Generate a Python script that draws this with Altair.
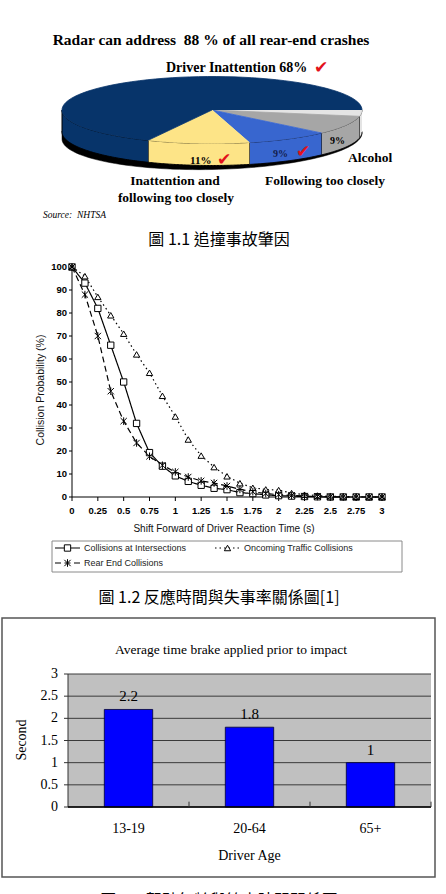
import altair as alt
import pandas as pd

W, H = 446, 894

# ---------------- data ----------------
pie_slices = ["Other", "Alcohol", "Following too closely",
              "Inattention and following too closely", "Driver Inattention"]
pie_shares = [3, 9, 9, 11, 68]
pie_colors = ["#e4e4e4", "#a6a6a6", "#3866cf", "#fde487", "#07346a"]

shift_time = [0, 0.125, 0.25, 0.375, 0.5, 0.625, 0.75, 0.875, 1.0, 1.125, 1.25, 1.375, 1.5,
              1.625, 1.75, 1.875, 2.0, 2.125, 2.25, 2.375, 2.5, 2.625, 2.75, 2.875, 3.0]
p_intersections = [100, 93, 82, 66, 50, 32, 19.3, 13.4, 9.2, 6.8, 5.1, 3.8, 3.2,
                   1.9, 1.5, 0.9, 0.6, 0.4, 0.2, 0.1, 0, 0, 0, 0, 0]
p_oncoming = [100, 96, 87, 79, 71, 62, 54, 44, 35, 25, 18, 13, 9,
              6, 4, 3.3, 3, 1.7, 1, 0.6, 0.3, 0.2, 0.1, 0, 0]
p_rear_end = [100, 88, 70, 46, 33, 23.5, 17.7, 13.8, 10.9, 8.7, 7, 6.1, 4.8,
              3.3, 2.3, 1.5, 1, 0.7, 0.4, 0.2, 0.1, 0, 0, 0, 0]
series_names = ["Collisions at Intersections", "Oncoming Traffic Collisions", "Rear End Collisions"]
time_ticks = [0, 0.25, 0.5, 0.75, 1, 1.25, 1.5, 1.75, 2, 2.25, 2.5, 2.75, 3]
prob_ticks = [0, 10, 20, 30, 40, 50, 60, 70, 80, 90, 100]

age_groups = ["13-19", "20-64", "65+"]
brake_seconds = [2.2, 1.8, 1.0]
second_ticks = [0, 0.5, 1, 1.5, 2, 2.5, 3]

SERIF = "Liberation Serif"
SANS = "Liberation Sans"
CJK = "Noto Sans CJK TC"
CHECK = "DejaVu Sans"

one = pd.DataFrame({"a": [0]})


def label(text, x, y, size, font=SERIF, weight="normal", align="left", style="normal",
          color="black", baseline="alphabetic", angle=0):
    return alt.Chart(pd.DataFrame({"t": [text]})).mark_text(
        font=font, fontSize=size, fontWeight=weight, fontStyle=style, align=align,
        baseline=baseline, color=color, angle=angle
    ).encode(x=alt.value(x), y=alt.value(y), text="t:N")


# ---------------- 3D pie ----------------
CX, CY, RX, RY, DEPTH, N = 212, 110, 150, 33.5, 22, 72
pie_df = pd.DataFrame({"slice": pie_slices, "share": pie_shares, "rank": list(range(len(pie_slices)))})
px_scale = alt.Scale(domain=[0, W], range=[0, W], nice=False, zero=False)
py_scale = alt.Scale(domain=[0, H], range=[0, H], nice=False, zero=False)
slice_scale = alt.Scale(domain=pie_slices, range=pie_colors)

pie_base = alt.Chart(pie_df).transform_window(
    cum="sum(share)", sort=[alt.SortField("rank")], frame=[None, 0]
).transform_joinaggregate(total="sum(share)").transform_calculate(
    t0="2*PI*(datum.cum - datum.share)/datum.total",
    t1="2*PI*datum.cum/datum.total",
)

pie_shadow = alt.Chart(alt.sequence(0, 2 * N + 2, as_="k")).transform_calculate(
    j=f"datum.k <= {N} ? datum.k : {2 * N + 1} - datum.k"
).transform_calculate(
    t=f"PI*datum.j/{N}"
).transform_calculate(
    px=f"{CX} + {RX}*cos(datum.t)",
    py=f"{CY} + {RY}*sin(datum.t) + {DEPTH} - 1 + (datum.k > {N} ? 5 - 3*cos(datum.t) : 0)",
).mark_line(filled=True, fill="black", stroke="black", strokeWidth=0.5).encode(
    x=alt.X("px:Q", scale=px_scale, axis=None),
    y=alt.Y("py:Q", scale=py_scale, axis=None),
    order="k:Q",
)

pie_side = pie_base.transform_calculate(
    s0="max(datum.t0, 0)", s1="min(datum.t1, PI)"
).transform_filter("datum.s1 > datum.s0").transform_calculate(
    k=f"sequence(0, {2 * N + 2})"
).transform_flatten(["k"]).transform_calculate(
    j=f"datum.k <= {N} ? datum.k : {2 * N + 1} - datum.k"
).transform_calculate(
    t=f"datum.s0 + (datum.s1 - datum.s0)*datum.j/{N}"
).transform_calculate(
    px=f"{CX} + {RX}*cos(datum.t)",
    py=f"{CY} + {RY}*sin(datum.t) + (datum.k > {N} ? {DEPTH} : 0)",
).mark_line(filled=True, stroke="black", strokeWidth=1).encode(
    x=alt.X("px:Q", scale=px_scale, axis=None),
    y=alt.Y("py:Q", scale=py_scale, axis=None),
    fill=alt.Fill("slice:N", scale=slice_scale, legend=None),
    detail="slice:N",
    order="k:Q",
)

pie_top = pie_base.transform_calculate(
    k=f"sequence(-1, {N + 1})"
).transform_flatten(["k"]).transform_calculate(
    t=f"datum.t0 + (datum.t1 - datum.t0)*max(datum.k, 0)/{N}"
).transform_calculate(
    px=f"datum.k < 0 ? {CX} : {CX} + {RX}*cos(datum.t)",
    py=f"datum.k < 0 ? {CY} : {CY} + {RY}*sin(datum.t)",
).mark_line(filled=True, strokeWidth=0.8).encode(
    x=alt.X("px:Q", scale=px_scale, axis=None),
    y=alt.Y("py:Q", scale=py_scale, axis=None),
    fill=alt.Fill("slice:N", scale=slice_scale, legend=None),
    stroke=alt.Stroke("slice:N", scale=slice_scale, legend=None),
    detail="slice:N",
    order="k:Q",
)

pie_group = alt.layer(pie_shadow, pie_side, pie_top)

pie_texts = [
    label("Radar can address\u00a0 88 % of all rear-end crashes", 211, 45, 15.5, weight="bold",
          align="center"),
    label("Driver Inattention 68%", 166, 72, 14, weight="bold"),
    label("✔", 314, 73, 17, font=CHECK, color="#e3121b"),
    label("11%", 190, 164, 11, weight="bold"),
    label("✔", 217, 165, 17, font=CHECK, color="#e3121b"),
    label("9%", 273, 157, 10, weight="bold", color="#14204a"),
    label("✔", 296, 157, 17, font=CHECK, color="#e3121b"),
    label("9%", 330, 144, 10, weight="bold"),
    label("Alcohol", 348, 162, 13.5, weight="bold"),
    label("Following too closely", 265, 185, 13.5, weight="bold"),
    label("Inattention and", 175, 185, 13.5, weight="bold", align="center"),
    label("following too closely", 176, 202, 13.5, weight="bold", align="center"),
    label("Source:\u00a0 NHTSA", 43, 218, 9.5, style="italic"),
    label("圖 1.1 追撞事故肇因", 219, 240, 16, font=CJK, align="center", baseline="middle"),
]

# ---------------- line chart ----------------
line_df = pd.DataFrame({
    "time": shift_time * 3,
    "prob": p_intersections + p_oncoming + p_rear_end,
    "series": [s for s in series_names for _ in shift_time],
})
STAR = "M-1,-1L1,1M-1,1L1,-1M0,-1.2L0,1.2"
lx_scale = alt.Scale(domain=[0, 3], range=[72, 382], nice=False, zero=False)
ly_scale = alt.Scale(domain=[0, 100], range=[497, 267], nice=False)
LX = dict(scale=lx_scale, axis=None)
LY = dict(scale=ly_scale, axis=None)
dash_scale = alt.Scale(domain=series_names, range=[[1, 0], [1.5, 3], [6, 3.5]])
shape_scale = alt.Scale(domain=series_names, range=["square", "triangle-up", STAR])

lines = alt.Chart(line_df).mark_line(color="black", strokeWidth=1.2).encode(
    x=alt.X("time:Q", **LX),
    y=alt.Y("prob:Q", **LY),
    strokeDash=alt.StrokeDash("series:N", scale=dash_scale, legend=None),
    detail="series:N",
)
points = alt.Chart(line_df).mark_point(filled=True, fill="white", stroke="black",
                                       strokeWidth=1, size=40, opacity=1).encode(
    x=alt.X("time:Q", **LX),
    y=alt.Y("prob:Q", **LY),
    shape=alt.Shape("series:N", scale=shape_scale, legend=None),
)
tx_df = pd.DataFrame({"v": time_ticks})
ty_df = pd.DataFrame({"v": prob_ticks})
lx_domain = alt.Chart(one).mark_rule(color="black", strokeWidth=1).encode(
    x=alt.XDatum(time_ticks[0], **LX), x2=alt.X2Datum(time_ticks[-1]), y=alt.YDatum(0, **LY))
ly_domain = alt.Chart(one).mark_rule(color="black", strokeWidth=1).encode(
    x=alt.XDatum(0, **LX), y=alt.YDatum(prob_ticks[0], **LY), y2=alt.Y2Datum(prob_ticks[-1]))
lx_ticks = alt.Chart(tx_df).mark_rule(color="black", y2Offset=4).encode(
    x=alt.X("v:Q", **LX), y=alt.YDatum(0, **LY), y2=alt.Y2Datum(0))
lx_labels = alt.Chart(tx_df).mark_text(font=SANS, fontWeight="bold", fontSize=9.5, baseline="top",
                                       dy=9, color="black").encode(
    x=alt.X("v:Q", **LX), y=alt.YDatum(0, **LY), text=alt.Text("v:Q", format="~g"))
ly_ticks = alt.Chart(ty_df).mark_rule(color="black", x2Offset=-3).encode(
    y=alt.Y("v:Q", **LY), x=alt.XDatum(0, **LX), x2=alt.X2Datum(0))
ly_labels = alt.Chart(ty_df).mark_text(font=SANS, fontWeight="bold", fontSize=9.5, align="right",
                                       baseline="middle", dx=-5, color="black").encode(
    y=alt.Y("v:Q", **LY), x=alt.XDatum(0, **LX), text=alt.Text("v:Q", format="~g"))
line_group = alt.layer(lx_domain, ly_domain, lx_ticks, ly_ticks, lx_labels, ly_labels, lines, points)

legend_parts = [
    alt.Chart(one).mark_rect(fill="white", stroke="#8a8a8a", strokeWidth=1).encode(
        x=alt.value(52), x2=alt.value(402), y=alt.value(541), y2=alt.value(572)),
]
legend_items = [(series_names[0], 55, 548, [1, 0], "square"),
                (series_names[1], 215, 548, [1.5, 3], "triangle-up"),
                (series_names[2], 55, 563, [6, 3.5], STAR)]
for name, lx0, ly0, dsh, shp in legend_items:
    legend_parts.append(alt.Chart(one).mark_rule(color="black", strokeWidth=1.2, strokeDash=dsh).encode(
        x=alt.value(lx0), x2=alt.value(lx0 + 25), y=alt.value(ly0)))
    legend_parts.append(alt.Chart(one).mark_point(shape=shp, filled=True, fill="white", stroke="black",
                                                  strokeWidth=1, size=40, opacity=1).encode(
        x=alt.value(lx0 + 12.5), y=alt.value(ly0)))
    legend_parts.append(label(name, lx0 + 29, ly0, 9, font=SANS, color="#222", baseline="middle"))

line_texts = [
    label("Shift Forward of Driver Reaction Time (s)", 224, 532, 10, font=SANS, color="#111",
          align="center"),
    label("Collision Probability (%)", 41, 390, 10.5, font=SANS, color="#111", align="center",
          baseline="middle", angle=270),
    label("圖 1.2 反應時間與失事率關係圖[1]", 219, 598, 16, font=CJK, align="center",
          baseline="middle"),
]

# ---------------- bar chart ----------------
bar_df = pd.DataFrame({"age": age_groups, "sec": brake_seconds})
PAD_INNER, PAD_OUTER = 0.6, 0.3
bx_scale = alt.Scale(domain=age_groups, range=[68, 431], paddingInner=PAD_INNER, paddingOuter=PAD_OUTER)
by_scale = alt.Scale(domain=[0, 3], range=[807, 674], nice=False)
BX = dict(scale=bx_scale, axis=None, sort=None)
BY = dict(scale=by_scale, axis=None)
STEP = (431 - 68) / (len(age_groups) - PAD_INNER + 2 * PAD_OUTER)

bar_frame = [
    alt.Chart(one).mark_rect(fill="white", stroke="#555555", strokeWidth=1.5).encode(
        x=alt.value(2), x2=alt.value(435), y=alt.value(618), y2=alt.value(877)),
    alt.Chart(one).mark_rect(fill="#c0c0c0").encode(
        x=alt.value(68), x2=alt.value(431), y=alt.value(674), y2=alt.value(807)),
    label("Average time brake applied prior to impact", 231, 654, 13.5, align="center"),
    label("Second", 22, 740, 14, align="center", baseline="middle", angle=270),
    label("Driver Age", 249.5, 860, 14, align="center"),
]

sy_df = pd.DataFrame({"v": second_ticks})
grid = alt.Chart(sy_df).mark_rule(color="#3a3a3a", strokeWidth=1).encode(
    y=alt.Y("v:Q", **BY), x=alt.value(68), x2=alt.value(431))
by_ticks = alt.Chart(sy_df).mark_rule(color="#333", strokeWidth=1).encode(
    y=alt.Y("v:Q", **BY), x=alt.value(64), x2=alt.value(68))
by_labels = alt.Chart(sy_df).mark_text(font=SERIF, fontSize=14, align="right", baseline="middle",
                                       color="black").encode(
    y=alt.Y("v:Q", **BY), x=alt.value(58), text=alt.Text("v:Q", format="~g"))
by_domain = alt.Chart(one).mark_rule(color="#333", strokeWidth=1).encode(
    x=alt.value(68), y=alt.YDatum(second_ticks[0], **BY), y2=alt.Y2Datum(second_ticks[-1]))
bars = alt.Chart(bar_df).mark_bar(color="#0000ff", stroke="#000033", strokeWidth=0.8).encode(
    x=alt.X("age:N", **BX),
    y=alt.Y("sec:Q", **BY),
)
bar_values = alt.Chart(bar_df).mark_text(font=SERIF, fontSize=15, dy=-8, baseline="alphabetic",
                                         color="black").encode(
    x=alt.X("age:N", **BX),
    y=alt.Y("sec:Q", **BY),
    text=alt.Text("sec:Q", format="~g"),
)
bx_domain = alt.Chart(one).mark_rule(color="black", strokeWidth=1.5).encode(
    x=alt.value(68), x2=alt.value(431), y=alt.YDatum(0, **BY))
bx_labels = alt.Chart(bar_df).mark_text(font=SERIF, fontSize=14, baseline="alphabetic", dy=26,
                                        color="black").encode(
    x=alt.X("age:N", **BX), y=alt.YDatum(0, **BY), text="age:N")
inner_ticks = alt.Chart(bar_df).mark_rule(color="#333", strokeWidth=1,
                                          xOffset=STEP * PAD_INNER / 2).encode(
    x=alt.X("age:N", bandPosition=1, **BX),
    y=alt.YDatum(0, **BY),
    y2=alt.Y2Datum(0.12),
)
bar_group = alt.layer(grid, by_ticks, by_labels, bars, bar_values, by_domain, bx_domain,
                      bx_labels, inner_ticks)

bar_texts = [label("圖 1.3 駕駛年齡與煞車時間關係圖", 219, 901, 16, font=CJK, align="center",
                   baseline="middle")]

chart = alt.layer(
    *bar_frame,
    pie_group, *pie_texts,
    line_group, *legend_parts, *line_texts,
    bar_group, *bar_texts,
).resolve_scale(
    x="independent", y="independent", fill="independent", stroke="independent",
    strokeDash="independent", shape="independent"
).properties(
    width=W, height=H, autosize="none", padding=0, background="white"
).configure_view(stroke=None)

chart.save("out.html", embed_options={"renderer": "svg", "actions": False})
